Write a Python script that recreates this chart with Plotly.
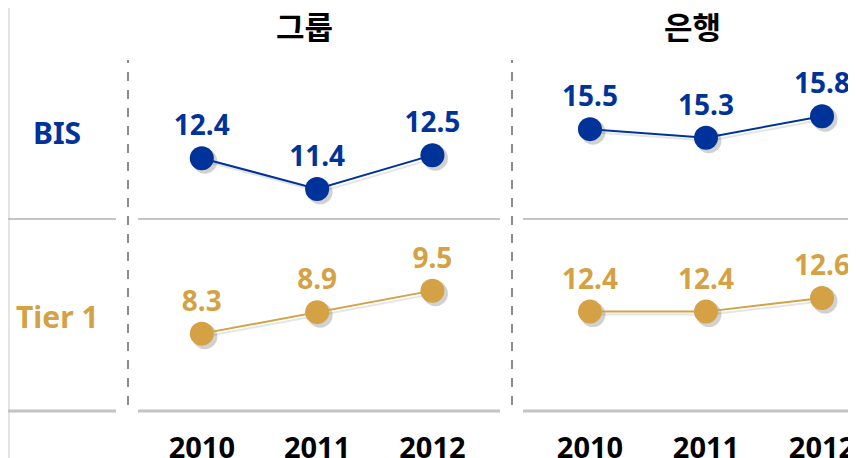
import plotly.graph_objects as go

# ---- data ----
years = ["2010", "2011", "2012"]
panel_titles = ["그룹", "은행"]
row_labels = ["BIS", "Tier 1"]
group_bis = [12.4, 11.4, 12.5]
group_tier1 = [8.3, 8.9, 9.5]
bank_bis = [15.5, 15.3, 15.8]
bank_tier1 = [12.4, 12.4, 12.6]

VW, VH = 856, 458      # browser viewport
OFF = 8                # default page body margin
W, H = VW - OFF, VH - OFF
BLUE = "#003399"
GOLD = "#D4A244"
FONT = "Noto Sans"
KFONT = "Noto Sans CJK KR"


def fx(p):
    return min(max((p - OFF) / W, 0), 1)


def fy(p):
    return min(max(1 - (p - OFF) / H, 0), 1)


xpos = list(range(len(years)))

# pixel layout of panels (viewport pixels)
X_G = (128, 512)
X_B = (512, 856)
Y_TOP = (60, 219)
Y_BOT = (219, 411)
SH = 3  # shadow offset px

rx_g = [-0.64, 2.69]
rx_b = [-0.672, 2.293]
ry = {
    "gb": [10.42, 15.6],
    "gt": [6.14, 11.5],
    "bb": [13.42, 17.1],
    "bt": [10.93, 13.77],
}

fig = go.Figure()

series = [
    ("gb", group_bis, BLUE, ("x", "x3"), ("y", "y5")),
    ("gt", group_tier1, GOLD, ("x", "x3"), ("y2", "y6")),
    ("bb", bank_bis, BLUE, ("x2", "x4"), ("y3", "y7")),
    ("bt", bank_tier1, GOLD, ("x2", "x4"), ("y4", "y8")),
]

# shadows first (lower-numbered subplots are drawn underneath)
for key, vals, col, xa, ya in series:
    fig.add_trace(go.Scatter(
        x=xpos, y=vals, xaxis=xa[0], yaxis=ya[0], mode="lines+markers",
        line=dict(color="rgba(0,0,0,0.10)", width=2),
        marker=dict(size=25, color="rgba(0,0,0,0.18)"),
        hoverinfo="skip", showlegend=False,
    ))

for key, vals, col, xa, ya in series:
    fig.add_trace(go.Scatter(
        x=xpos, y=vals, xaxis=xa[1], yaxis=ya[1], mode="lines+markers+text",
        line=dict(color=col, width=2),
        marker=dict(size=24, color=col),
        text=[f"{v:.1f}" for v in vals], textposition="top center",
        textfont=dict(family=FONT, size=28, color=col, weight="bold"),
        showlegend=False,
    ))

hidden = dict(visible=False, showgrid=False, zeroline=False, fixedrange=True, automargin=False)

layout = dict(
    width=W, height=H,
    margin=dict(l=0, r=0, t=0, b=0, pad=0, autoexpand=False),
    paper_bgcolor="white", plot_bgcolor="rgba(0,0,0,0)",
    showlegend=False,
)

# shadow axes
layout["xaxis"] = dict(hidden, domain=[fx(X_G[0] + SH), fx(X_G[1] + SH)], range=rx_g, anchor="y")
kb = (X_B[1] - X_B[0]) / (rx_b[1] - rx_b[0])
layout["xaxis2"] = dict(hidden, domain=[fx(X_B[0] + SH), 1],
                        range=[rx_b[0], rx_b[0] + (X_B[1] - X_B[0] - SH) / kb], anchor="y3")
layout["yaxis"] = dict(hidden, domain=[fy(Y_TOP[1] + SH), fy(Y_TOP[0] + SH)], range=ry["gb"], anchor="x")
layout["yaxis2"] = dict(hidden, domain=[fy(Y_BOT[1] + SH), fy(Y_BOT[0] + SH)], range=ry["gt"], anchor="x")
layout["yaxis3"] = dict(hidden, domain=[fy(Y_TOP[1] + SH), fy(Y_TOP[0] + SH)], range=ry["bb"], anchor="x2")
layout["yaxis4"] = dict(hidden, domain=[fy(Y_BOT[1] + SH), fy(Y_BOT[0] + SH)], range=ry["bt"], anchor="x2")

# main axes
xt = dict(showgrid=False, zeroline=False, showline=False, ticks="", fixedrange=True,
          automargin=False,
          tickmode="array", tickvals=xpos, ticktext=years,
          tickfont=dict(family=FONT, size=29, color="black", weight="bold"),
          ticklabelstandoff=17)
layout["xaxis3"] = dict(xt, domain=[fx(X_G[0]), fx(X_G[1])], range=rx_g, anchor="y6")
layout["xaxis4"] = dict(xt, domain=[fx(X_B[0]), 1], range=rx_b, anchor="y8")
layout["yaxis5"] = dict(hidden, domain=[fy(Y_TOP[1]), fy(Y_TOP[0])], range=ry["gb"], anchor="x3")
layout["yaxis6"] = dict(hidden, domain=[fy(Y_BOT[1]), fy(Y_BOT[0])], range=ry["gt"], anchor="x3")
layout["yaxis7"] = dict(hidden, domain=[fy(Y_TOP[1]), fy(Y_TOP[0])], range=ry["bb"], anchor="x4")
layout["yaxis8"] = dict(hidden, domain=[fy(Y_BOT[1]), fy(Y_BOT[0])], range=ry["bt"], anchor="x4")

fig.update_layout(**layout)

shapes = []
# left border (as close to the reference as the page allows)
shapes.append(dict(type="line", xref="paper", yref="paper", x0=0.001, x1=0.001, y0=0, y1=1,
                   line=dict(color="#E3E3E3", width=2)))
# horizontal separators
for py, wdt in ((219, 2), (411, 3)):
    for a, b in ((0, 116), (138, 500), (523, 856)):
        shapes.append(dict(type="line", xref="paper", yref="paper", x0=fx(a), x1=fx(b),
                           y0=fy(py), y1=fy(py), line=dict(color="#C4C4C4", width=wdt)))
# dashed vertical separators
for px in (128, 512):
    shapes.append(dict(type="line", xref="paper", yref="paper", x0=fx(px), x1=fx(px),
                       y0=fy(405), y1=fy(60), line=dict(color="#8C8C8C", width=2, dash="dash")))
fig.update_layout(shapes=shapes)

ann = []
for t, cx in zip(panel_titles, (304, 692)):
    ann.append(dict(text=t, x=fx(cx), y=fy(25), xref="paper", yref="paper", showarrow=False,
                    xanchor="center", yanchor="middle",
                    font=dict(family=KFONT, size=31, color="black", weight="bold")))
for t, cy, col in zip(row_labels, (132, 316), (BLUE, GOLD)):
    ann.append(dict(text=t, x=fx(57), y=fy(cy), xref="paper", yref="paper", showarrow=False,
                    xanchor="center", yanchor="middle",
                    font=dict(family=FONT, size=30, color=col, weight="bold")))
fig.update_layout(annotations=ann)

fig.write_html("out.html")
